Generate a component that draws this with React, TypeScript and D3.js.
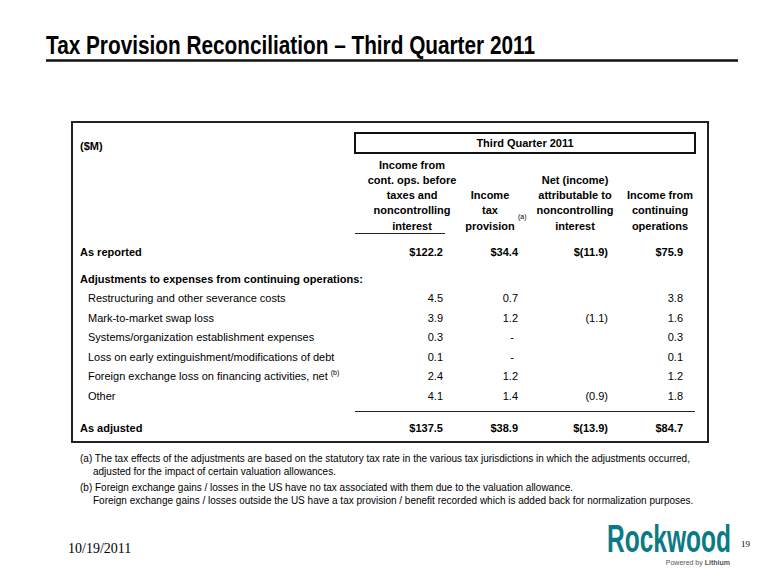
import React from "react";
import { scaleLinear, scaleOrdinal, format } from "d3";

// table content
const columns = ["preTax", "taxProvision", "nci", "continuing"];
const headerLines = [
  ["Income from", "cont. ops. before", "taxes and", "noncontrolling", "interest"],
  ["Income", "tax", "provision"],
  ["Net (income)", "attributable to", "noncontrolling", "interest"],
  ["Income from", "continuing", "operations"],
];
const adjustmentLabels = [
  "Restructuring and other severance costs",
  "Mark-to-market swap loss",
  "Systems/organization establishment expenses",
  "Loss on early extinguishment/modifications of debt",
  "Foreign exchange loss on financing activities, net",
  "Other",
];
const reported = [122.2, 34.4, -11.9, 75.9];
const adjusted = [137.5, 38.9, -13.9, 84.7];
// one array per column, null = blank cell, 0 = "-"
const preTaxAdj = [4.5, 3.9, 0.3, 0.1, 2.4, 4.1];
const taxAdj = [0.7, 1.2, 0, 0, 1.2, 1.4];
const nciAdj = [null, -1.1, null, null, null, -0.9];
const continuingAdj = [3.8, 1.6, 0.3, 0.1, 1.2, 1.8];
const adjustmentCols = [preTaxAdj, taxAdj, nciAdj, continuingAdj];

const footnotes = [
  "(a) The tax effects of the adjustments are based on the statutory tax rate in the various tax jurisdictions in which the adjustments occurred,",
  "adjusted for the impact of certain valuation allowances.",
  "(b) Foreign exchange gains / losses in the US have no tax associated with them due to the valuation allowance.",
  "Foreign exchange gains / losses outside the US have a tax provision / benefit recorded which is added back for normalization purposes.",
];

const SANS = "'Liberation Sans', Arial, sans-serif";
const NARROW = "'Liberation Sans Narrow', 'Arial Narrow', 'Liberation Sans', Arial, sans-serif";
const SERIF = "'Liberation Serif', 'Times New Roman', serif";
const TEAL = "#0b7a86";

const f1 = format(".1f");
const fmt = (v: number | null, dollar: boolean) => {
  if (v === null) return "";
  if (v === 0) return "-";
  const s = v < 0 ? `(${f1(-v)})` : f1(v);
  return dollar ? `$${s}` : s;
};

const App = () => {
  const width = 780;
  const height = 585;

  // right edge of each numeric column / header centre
  const colRight = scaleOrdinal<string, number>().domain(columns).range([443, 518, 608, 683]);
  const colCenter = scaleOrdinal<string, number>().domain(columns).range([412, 490, 575, 660]);
  // header lines are bottom-aligned
  const headerY = scaleLinear().domain([0, 4]).range([168.5, 229.5]);
  const rowY = scaleLinear().domain([0, adjustmentLabels.length - 1]).range([302, 399.5]);

  const headers = headerLines.map((lines, ci) =>
    lines.map((t, li) => (
      <text
        key={`h${ci}-${li}`}
        x={colCenter(columns[ci])}
        y={headerY(5 - lines.length + li)}
        textAnchor="middle"
        fontWeight="bold"
        fontSize="11"
      >
        {t}
      </text>
    ))
  );

  const adjRows = adjustmentLabels.map((label, ri) => (
    <g key={label}>
      <text x={88} y={rowY(ri)} fontSize="11">
        {label}
        {ri === 4 && (
          <tspan fontSize="7" dx="3" dy="-5">(b)</tspan>
        )}
      </text>
      {adjustmentCols.map((col, ci) => (
        <text
          key={ci}
          x={colRight(columns[ci]) - (col[ri] === 0 ? 4 : 0)}
          y={rowY(ri)}
          textAnchor="end"
          fontSize="11"
        >
          {fmt(col[ri], false)}
        </text>
      ))}
    </g>
  ));

  const totalRow = (values: number[], y: number, key: string) =>
    values.map((v, ci) => (
      <text
        key={`${key}${ci}`}
        x={colRight(columns[ci])}
        y={y}
        textAnchor="end"
        fontWeight="bold"
        fontSize="11"
      >
        {fmt(v, true)}
      </text>
    ));

  return (
    <svg
      width={width}
      height={height}
      viewBox={`0 0 ${width} ${height}`}
      style={{ position: "absolute", left: 0, top: 0, background: "#fff" }}
      fontFamily={SANS}
      fill="#000"
    >
      {/* title */}
      <text x={46} y={54} fontFamily={NARROW} fontWeight="bold" fontSize="25" textLength={489} lengthAdjust="spacingAndGlyphs">
        Tax Provision Reconciliation – Third Quarter 2011
      </text>
      <line x1={46} x2={738} y1={60.5} y2={60.5} stroke="#111" strokeWidth="2.5" />

      {/* table frame */}
      <rect x={72} y={122} width={636} height={320} fill="none" stroke="#222" strokeWidth="2" />
      <text x={80} y={150} fontWeight="bold" fontSize="11">($M)</text>
      <rect x={355} y={133} width={340} height={20} fill="none" stroke="#111" strokeWidth="2" />
      <text x={525} y={147} textAnchor="middle" fontWeight="bold" fontSize="11">Third Quarter 2011</text>

      {headers}
      <text x={518} y={219} fontSize="7">(a)</text>
      <line x1={355} x2={445} y1={233.5} y2={233.5} stroke="#222" strokeWidth="1" />

      <text x={80} y={256} fontWeight="bold" fontSize="11">As reported</text>
      {totalRow(reported, 256, "r")}
      <text x={80} y={283} fontWeight="bold" fontSize="11">Adjustments to expenses from continuing operations:</text>
      {adjRows}
      <line x1={355} x2={695} y1={411.5} y2={411.5} stroke="#222" strokeWidth="1" />
      <text x={80} y={432} fontWeight="bold" fontSize="11">As adjusted</text>
      {totalRow(adjusted, 432, "a")}

      {/* footnotes */}
      {footnotes.map((t, i) => (
        <text
          key={i}
          x={i % 2 === 1 ? 93 : 80}
          y={[462, 475, 491, 504][i]}
          fontSize="10"
        >
          {t}
        </text>
      ))}

      {/* footer */}
      <text x={68} y={553} fontFamily={SERIF} fontSize="14">10/19/2011</text>
      <text x={741} y={547} fontFamily={SERIF} fontSize="9">19</text>
      <g transform="translate(607,552) scale(1,1.6)">
        <text x={0} y={0} fontWeight="bold" fontSize="24" fill={TEAL} textLength={124} lengthAdjust="spacingAndGlyphs">
          Rockwood
        </text>
      </g>
      <text x={730} y={565} textAnchor="end" fontFamily={NARROW} fontSize="7" fill="#555">
        Powered by <tspan fontWeight="bold">Lithium</tspan>
      </text>
    </svg>
  );
};

export default App;
